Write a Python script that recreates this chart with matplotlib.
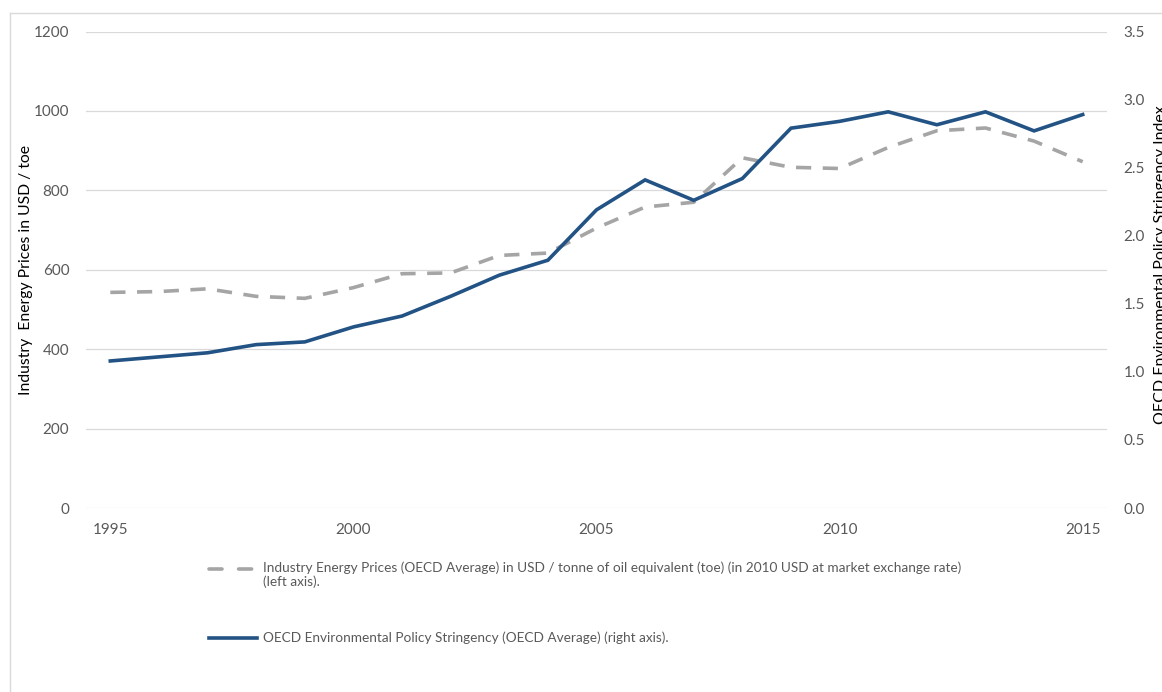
import numpy as np
import matplotlib.pyplot as plt
from matplotlib.lines import Line2D

# data
years = list(range(1995, 2016))
energy_price = [543, 545, 552, 533, 528, 555, 590, 592, 636, 642, 705,
                758, 770, 882, 858, 855, 908, 950, 957, 924, 872]   # USD / toe (left)
eps_index = [1.08, 1.11, 1.14, 1.20, 1.22, 1.33, 1.41, 1.555, 1.71, 1.82, 2.19,
             2.41, 2.26, 2.42, 2.79, 2.84, 2.91, 2.815, 2.91, 2.77, 2.89]  # index (right)

left_ticks = [0, 200, 400, 600, 800, 1000, 1200]
right_ticks = [0.0, 0.5, 1.0, 1.5, 2.0, 2.5, 3.0, 3.5]
x_ticks = [1995, 2000, 2005, 2010, 2015]

label_price = ("Industry Energy Prices (OECD Average) in USD / tonne of oil equivalent (toe) "
               "(in 2010 USD at market exchange rate)\n(left axis).")
label_eps = "OECD Environmental Policy Stringency (OECD Average) (right axis)."

grey = '#a5a5a5'
navy = '#225384'
tick_col = '#595959'
plt.rcParams['font.family'] = ['Lato', 'DejaVu Sans']

W, H = 1162, 692
fig = plt.figure(figsize=(W / 100, H / 100), dpi=100)

def fx(px):
    return px / W

def fy(py):
    return 1 - py / H

ax = fig.add_axes([fx(86), fy(508), fx(1107) - fx(86), fy(31.5) - fy(508)])
ax2 = ax.twinx()

ax.plot(years, energy_price, color=grey, lw=2.6, dashes=(4.2, 3.2), dash_capstyle='butt')
ax2.plot(years, eps_index, color=navy, lw=2.6, solid_joinstyle='miter')

ax.set_xlim(1994.5, 2015.5)
ax.set_ylim(0, 1200)
ax2.set_ylim(0, 3.5)
ax.set_xticks(x_ticks)
ax.set_yticks(left_ticks)
ax2.set_yticks(right_ticks)
ax2.set_yticklabels([f"{v:.1f}" for v in right_ticks])

ax.grid(axis='y', color='#d9d9d9', lw=0.9)
ax.set_axisbelow(True)
for a in (ax, ax2):
    for s in a.spines.values():
        s.set_visible(False)
    a.tick_params(length=0, labelsize=11, labelcolor=tick_col)
ax.tick_params(axis='y', pad=12)
ax.tick_params(axis='x', pad=11)
ax2.tick_params(axis='y', pad=12)

fig.text(fx(26), fy(270), "Industry  Energy Prices in USD / toe", rotation=90,
         ha='center', va='center', fontsize=11.3, color='black')
fig.text(fx(1161), fy(265), "OECD Environmental Policy Stringency Index", rotation=90,
         ha='center', va='center', fontsize=11.5, color='black')

# legend drawn by hand below the plot
fig.add_artist(Line2D([fx(209), fx(254)], [fy(569), fy(569)], color=grey, lw=2.6,
                      dashes=(3.6, 4.6), dash_capstyle='round'))
fig.text(fx(263), fy(561), label_price, ha='left', va='top', fontsize=9.8,
         color=tick_col, linespacing=1.2)
fig.add_artist(Line2D([fx(209), fx(257)], [fy(638), fy(638)], color=navy, lw=2.6))
fig.text(fx(263), fy(638), label_eps, ha='left', va='center', fontsize=9.8, color=tick_col)

# chart-area border
fig.add_artist(Line2D([fx(10), fx(10)], [fy(13), 0], color='#d9d9d9', lw=1))
fig.add_artist(Line2D([fx(10), 1], [fy(13), fy(13)], color='#d9d9d9', lw=1))

fig.savefig('out.png', dpi=100)
